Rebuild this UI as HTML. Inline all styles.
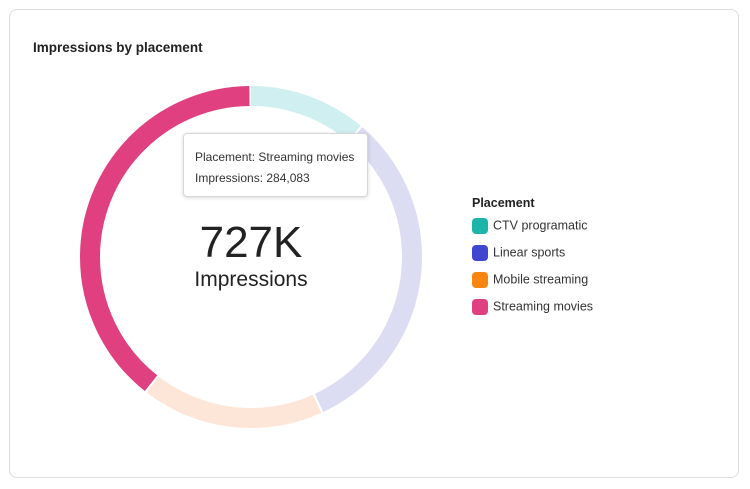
<!DOCTYPE html>
<html><head><meta charset="utf-8"><style>
body{margin:0;width:750px;height:489px;background:#fff;font-family:"Liberation Sans",sans-serif;position:relative;overflow:hidden}
.card{position:absolute;left:9px;top:9px;width:730px;height:469px;border:1px solid #dcdcdc;border-radius:8px;box-sizing:border-box}
.title{position:absolute;left:33px;top:40px;font-size:13.5px;font-weight:bold;color:#222}
.tip{position:absolute;left:183px;top:133px;width:185px;height:64px;box-sizing:border-box;border:1px solid #d6d6d6;border-radius:4px;background:#fff;box-shadow:0 1px 4px rgba(0,0,0,.15);font-size:12px;color:#333;padding:13px 0 0 11px;line-height:21px}
.big{position:absolute;left:151px;width:200px;text-align:center;top:218px;font-size:44px;color:#222}
.sub{position:absolute;left:151px;width:200px;text-align:center;top:268px;font-size:21px;color:#222}
.lg{position:absolute;left:472px;font-size:12.5px;color:#333}
.sw{display:inline-block;width:16px;height:16px;border-radius:4px;vertical-align:middle;margin-right:5px}
</style></head><body>
<div class="card"></div>
<div class="title">Impressions by placement</div>
<svg width="750" height="489" style="position:absolute;left:0;top:0">
<g transform="rotate(-90 251 257)" fill="none" stroke-width="20">
<circle cx="251" cy="257" r="161" stroke="#d0eff0" stroke-dasharray="112 1011.6" stroke-dashoffset="0"/>
<circle cx="251" cy="257" r="161" stroke="#dcdcf3" stroke-dasharray="321.4 1011.6" stroke-dashoffset="-114"/>
<circle cx="251" cy="257" r="161" stroke="#fde6d8" stroke-dasharray="174 1011.6" stroke-dashoffset="-437.4"/>
<circle cx="251" cy="257" r="161" stroke="#e0407f" stroke-dasharray="396.2 1011.6" stroke-dashoffset="-613.4"/>
</g></svg>
<div class="tip">Placement: Streaming movies<br>Impressions: 284,083</div>
<div class="big">727K</div>
<div class="sub">Impressions</div>
<div class="lg" style="top:196px;font-weight:bold;color:#222">Placement</div>
<div class="lg" style="top:218px"><span class="sw" style="background:#1bb5aa"></span>CTV programatic</div>
<div class="lg" style="top:245px"><span class="sw" style="background:#4046d0"></span>Linear sports</div>
<div class="lg" style="top:272px"><span class="sw" style="background:#f68512"></span>Mobile streaming</div>
<div class="lg" style="top:299px"><span class="sw" style="background:#e0407f"></span>Streaming movies</div>
</body></html>
